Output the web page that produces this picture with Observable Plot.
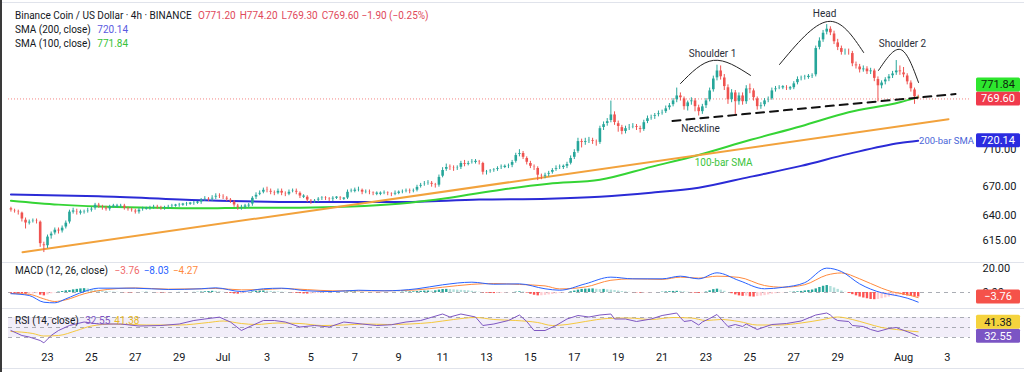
<!DOCTYPE html>
<html><head><meta charset="utf-8">
<script src="https://cdn.jsdelivr.net/npm/d3@7"></script>
<script src="https://cdn.jsdelivr.net/npm/@observablehq/plot@0.6"></script>
<style>
body{margin:0;background:#fff;}
#chart{position:relative;width:1024px;height:372px;overflow:hidden;font-family:Roboto,"Liberation Sans",sans-serif;color:#131722;background:#fff;}
.pane{position:absolute;left:0;}
.legend{position:absolute;left:15px;font-size:10px;white-space:nowrap;line-height:14px;}
.legend span{margin-left:4px;}
.sep{position:absolute;left:0;width:1024px;height:1px;background:#e0e3eb;}
.lborder{position:absolute;left:0;top:0;width:2px;height:372px;background:#3a3a3a;}
</style></head><body><div id="chart"></div>
<script>
// ---------------- DATA ----------------
const candleStart = "2025-06-21T08:00Z"; // first 4h bar
const firstOpen = 647;
const lastBarOHLC = [771.20, 774.20, 769.30, 769.60];
const lastChange = [-1.90, -0.25];
const closes = [
644.6,643.6,642.6,635.4,
631.4,633.4,634.4,633.4,611,609,
618.6,621.5,625.4,623.5,627.4,632.4,
643.6,643.6,642.6,642.6,643.6,644.6,
646.6,650.7,648.7,647.6,645.6,648.7,
648.7,648.7,649.7,646.6,645.6,644.6,
642.6,645.6,646.6,646.6,647.6,648.7,
647.6,646.6,647.6,648.7,649.7,649.7,
650.7,650.7,651.7,651.7,652.8,652.8,
655.9,656.9,655.9,657.9,660,659,
657.9,655.9,653.8,649.7,647.6,648.7,
648.7,650.7,657.9,661,663.1,666.3,
665.2,663.1,662.1,665.2,662.1,661,
664.2,665.2,663.1,659,659,654.8,
653.8,654.8,656.9,657.9,656.9,655.9,
657.9,657.9,656.9,656.9,664.2,665.2,
665.2,666.3,663.1,664.2,663.1,662.1,
662.1,662.1,663.1,662.1,661,663.1,
663.1,664.2,665.2,664.2,665.2,669.4,
671.5,672.6,673.7,671.5,670.5,680.1,
687.6,690.9,689.8,688.7,689.8,695.3,
693.1,695.3,696.4,696.4,695.3,684.4,
685.5,686.6,687.6,689.8,690.9,690.9,
692,696.4,704.1,706.4,700.8,695.3,
690.9,689.8,681.2,680.1,682.3,684.4,
687.6,689.8,690.9,690.9,694.2,700.8,
707.5,719.9,717.6,719.9,721,718.8,
717.6,734.8,739.5,743,751,740.6,
736,730.2,734.8,736,737.1,734.8,
732.5,741.8,746.5,747.7,750,752.3,
753.5,758.3,761.9,767.9,774,770.4,
759.5,765.5,767.9,759.5,753.5,760.7,
767.9,780.2,795.1,805.3,796.4,784.1,
767.9,777.7,765.5,774,765.5,782.7,
780.2,770.4,759.5,761.9,767.9,769.1,
780.2,782.7,784,784,782.7,782.7,
789,794.4,795.7,797,797,798.9,
834.5,844.5,855,860.5,854,842,
834.5,827.9,829.5,827.9,813,810.4,
805.3,807.8,802.8,805.3,794.4,785.1,
790,793.9,797.7,801.5,805.3,802.8,
798.9,790,781.4,771.5,769.6];
const highs = [
648,646,645,643,
637,635,636,636,634,613,
620,623,627,627,629,634,
645,647,646,645,645,647,
648,652,652,650,649,650,
651,651,651,651,648,647,
646,647,648,648,649,650,
650,649,649,650,651,651,
652,652,653,653,654,654,
657,659,658,660,662,662,
661,659,657,655,651,650,
651,652,659,663,665,668,
669,667,665,667,667,664,
666,667,667,664,661,660,
656,656,658,659,659,658,
659,659,659,658,666,667,
668,669,667,666,666,664,
664,664,665,664,663,665,
665,666,667,667,667,671,
673,675,676,675,673,682,
690,694,693,692,692,697,
698,697,699,699,698,696,
687,688,689,691,693,693,
694,698,706,710,708,702,
697,693,691,683,684,686,
689,692,693,693,696,703,
710,723,722,723,724,723,
721,737,742,746,767,754,
743,738,737,739,740,739,
737,744,749,750,752,755,
756,761,764,770,783,777,
772,767,771,770,762,763,
770,783,798,812,811,800,
787,781,780,777,777,786,
788,782,772,765,770,772,
783,785,786,786,786,785,
791,797,798,799,800,801,
837,848,858,866,863,857,
846,837,833,833,830,816,
813,811,810,808,807,797,
792,796,800,804,818,811,
809,801,792,783,774.2];
const lows = [
643,642,640,633,
626,630,632,631,608,603,
607,616,620,621,622,626,
631,641,640,640,641,642,
643,645,647,645,644,644,
647,647,647,645,644,643,
641,641,644,645,645,646,
646,645,645,646,647,648,
648,649,649,650,650,651,
651,654,654,654,656,657,
656,654,652,648,645,645,
646,647,649,656,660,662,
663,661,660,661,660,659,
660,663,661,657,657,653,
651,652,653,655,655,654,
654,656,655,655,656,663,
663,664,661,662,661,660,
660,660,661,660,659,660,
661,662,663,662,663,664,
668,670,671,669,668,669,
679,686,687,686,687,688,
691,692,694,694,693,682,
682,684,685,686,688,689,
689,690,695,702,699,693,
689,687,676,677,678,680,
683,686,688,688,689,693,
699,706,712,715,717,716,
714,716,732,737,741,738,
730,727,728,732,734,732,
729,731,740,744,745,748,
750,752,756,760,765,767,
756,755,762,754,749,751,
758,766,778,792,793,780,
763,765,749,762,762,763,
776,767,756,757,760,765,
768,778,781,781,780,780,
781,787,792,793,794,795,
797,832,842,852,851,839,
831,825,825,825,810,807,
802,803,800,800,791,766,
782,787,791,795,799,799,
796,787,778,763,769.3];
const histogram = [
-0.5,-0.8,-1.0,-1.2,-1.5,-1.3,-1.2,-1.0,-2.2,-2.8,
-2.0,-1.1,-0.3,0.4,0.8,1.4,
1.6,2.2,2.6,3.0,3.2,3.0,2.6,2.0,1.4,
1.0,0.8,0.5,0.3,0.2,0.0,-0.2,-0.3,-0.3,-0.2,-0.1,0.1,0.2,0.1,0.0,-0.2,-0.3,-0.3,-0.2,-0.1,0.0,0.1,0.0,-0.1,0.0,0.1,0.2,
0.4,0.6,0.8,1.0,0.9,0.6,0.2,-0.3,-0.8,-1.2,
-1.4,-1.2,-0.8,-0.2,
0.5,1.0,1.2,1.3,1.1,0.9,0.6,0.5,0.3,0.2,0.0,
-0.3,-0.6,-0.9,-1.2,-1.3,-1.2,-1.0,-0.8,
-0.6,-0.4,-0.3,-0.2,-0.1,0.0,0.2,0.4,0.5,0.5,0.4,0.2,0.1,0.0,-0.1,-0.2,-0.2,-0.1,-0.1,0.0,0.1,0.1,
0.3,0.4,0.5,0.6,0.8,1.0,1.2,1.2,1.1,1.4,2.0,2.5,2.6,2.4,2.2,2.0,1.8,1.6,1.4,1.0,0.6,0.2,-0.3,-0.6,
-0.8,-0.9,-0.8,-0.6,-0.4,-0.2,0.0,0.3,0.6,
0.4,-0.5,-1.5,-2.3,-2.8,-2.7,-2.4,
-2.0,-1.6,-1.2,-0.8,-0.5,
0.0,0.6,1.2,2.0,2.6,2.8,2.9,3.0,2.7,2.4,2.6,2.2,
2.0,1.6,1.2,0.8,0.5,0.2,
-0.1,-0.3,-0.5,-0.4,-0.3,-0.2,-0.1,0.0,
0.3,0.5,0.7,0.9,1.0,0.9,0.6,0.2,
-0.3,-0.6,-0.7,-0.4,
0.4,1.4,2.4,2.8,
2.0,1.0,0.0,-1.0,-2.0,-2.8,-3.2,-3.0,-3.6,-3.8,-3.4,-3.0,-2.6,-2.0,
-1.4,-1.0,-0.6,-0.3,0.0,0.2,0.4,0.6,0.9,
1.3,1.7,2.1,3.0,4.2,5.2,5.8,5.0,3.8,2.6,
1.2,0.2,-0.8,
-1.8,-2.8,-3.8,-4.6,-5.2,-5.8,-6.0,-5.8,-5.2,-4.5,-3.8,
-3.0,-2.4,-2.0,
-2.4,-2.9,-3.3,-3.6,-3.76];
const sma200 = [["06-21T08",661.3],["06-25T08",659.4],["06-30T00",655.3],["07-04T12",653.3],["07-09T00",653.3],["07-12T16",655.9],["07-15T20",656.9],["07-18T04",659.0],["07-20T12",663.1],["07-22T16",668.4],["07-25T00",680.0],["07-27T08",692.0],["07-29T12",705.3],["07-31T20",717.6],["08-01T16",720.14]];
const sma100 = [["06-21T08",654.8],["06-23T12",650.7],["06-25T08",648.7],["06-27T16",647.6],["06-30T00",647.0],["07-02T04",647.6],["07-04T12",647.6],["07-06T20",648.7],["07-09T00",651.7],["07-11T08",657.9],["07-13T16",666.3],["07-15T20",672.6],["07-18T04",676.9],["07-20T12",690.9],["07-22T16",704.1],["07-25T00",721.0],["07-27T08",737.0],["07-29T12",753.5],["07-31T20",765.5],["08-01T16",771.84]];
const macdLine = [["06-21T08",-1.0],["06-22T04",-2.5],["06-22T20",-8.1],["06-23T08",-8.6],["06-23T20",-5.3],["06-24T16",0.8],["06-25T08",3.6],["06-27T00",3.6],["06-28T12",2.5],["06-30T00",3.1],["06-30T16",3.9],["07-01T20",0.8],["07-02T20",3.1],["07-03T16",3.6],["07-04T20",1.4],["07-06T00",0.8],["07-07T04",1.9],["07-08T08",1.4],["07-09T20",3.1],["07-11T00",6.4],["07-12T08",8.6],["07-13T08",6.9],["07-14T12",7.2],["07-15T16",3.1],["07-16T08",1.9],["07-17T12",7.2],["07-18T16",12.8],["07-19T16",11.4],["07-21T00",11.4],["07-21T20",13.6],["07-22T16",11.4],["07-23T12",16.4],["07-24T12",10.0],["07-25T16",3.1],["07-26T12",4.3],["07-27T12",8.2],["07-28T12",20.3],["07-29T04",17.5],["07-30T00",7.2],["07-31T00",-0.2],["07-31T12",-1.9],["08-01T04",-4.7],["08-01T16",-8.03]];
const signalLine = [["06-21T08",-0.8],["06-22T04",-1.5],["06-22T20",-5.3],["06-23T08",-7.5],["06-23T20",-6.1],["06-24T16",-1.1],["06-25T08",1.6],["06-27T00",3.8],["06-28T12",2.8],["06-30T00",3.1],["06-30T16",3.4],["07-01T20",2.2],["07-02T20",2.4],["07-03T16",3.3],["07-04T20",2.4],["07-06T00",1.4],["07-07T04",1.4],["07-08T08",1.4],["07-09T20",2.2],["07-11T00",4.4],["07-12T08",6.8],["07-13T08",7.5],["07-14T12",6.7],["07-15T16",5.5],["07-16T08",3.0],["07-17T12",4.6],["07-18T16",10.2],["07-19T16",11.4],["07-21T00",10.9],["07-21T20",12.8],["07-22T16",12.0],["07-23T12",13.6],["07-24T12",12.6],["07-25T16",5.8],["07-26T12",4.4],["07-27T12",6.5],["07-28T12",14.5],["07-29T04",16.3],["07-30T00",11.4],["07-31T00",3.6],["07-31T12",0.5],["08-01T04",-1.8],["08-01T16",-4.27]];
const rsiLine = [["06-21T08",44],["06-21T20",34],["06-22T04",31],["06-22T16",24],["06-22T20",19.3],["06-23T04",34],["06-23T12",44],["06-24T00",54],["06-24T16",61],["06-25T08",57],["06-26T08",57],["06-27T04",53],["06-28T04",54],["06-29T00",57],["06-29T16",64],["06-30T04",67],["06-30T20",70.7],["07-01T08",61],["07-01T20",44],["07-02T04",51],["07-02T20",64],["07-03T08",64],["07-03T20",61],["07-04T12",51],["07-05T04",54],["07-05T20",51],["07-06T12",61],["07-07T08",57],["07-08T00",54],["07-08T16",55.5],["07-09T08",61],["07-10T00",64],["07-11T00",77],["07-11T08",71],["07-11T20",77],["07-12T12",71],["07-12T20",54],["07-13T08",57],["07-14T00",64],["07-14T12",75],["07-14T20",62],["07-15T04",44],["07-15T16",44],["07-16T04",54],["07-16T16",67],["07-17T04",74],["07-17T16",71],["07-18T04",75],["07-18T16",77],["07-18T20",67],["07-19T08",67],["07-19T20",62],["07-20T12",67],["07-21T00",74],["07-21T16",79],["07-21T20",70],["07-22T00",62],["07-22T08",64],["07-22T16",55],["07-22T20",61],["07-23T04",68],["07-23T12",76],["07-23T20",60],["07-24T00",52],["07-24T08",56],["07-24T16",52],["07-24T20",57],["07-25T08",46],["07-26T00",56],["07-26T16",58],["07-27T08",63],["07-28T00",75],["07-28T12",79],["07-28T16",75],["07-28T20",68],["07-29T00",64],["07-29T12",62],["07-29T16",54],["07-30T04",52],["07-30T12",46],["07-30T20",42],["07-31T08",48],["07-31T16",50],["07-31T20",47],["08-01T08",39],["08-01T16",32.55]];
const rsiMA = [["06-21T08",42],["06-22T08",38],["06-22T20",33],["06-23T12",34],["06-24T08",44],["06-25T00",53],["06-26T00",57],["06-27T12",55],["06-29T00",55],["06-30T08",60],["07-01T00",63],["07-01T20",58],["07-02T12",56],["07-03T12",59],["07-04T12",58],["07-05T12",54],["07-06T12",55],["07-07T12",57],["07-08T12",56],["07-09T12",57],["07-10T12",60],["07-11T12",66],["07-12T12",70],["07-13T08",66],["07-14T08",64],["07-15T08",60],["07-16T00",54],["07-16T16",56],["07-17T12",62],["07-18T12",68],["07-19T12",69],["07-20T12",66],["07-21T12",70],["07-22T08",69],["07-23T00",64],["07-23T16",66],["07-24T12",62],["07-25T08",55],["07-26T08",55],["07-27T08",59],["07-28T08",66],["07-29T00",71],["07-29T16",66],["07-30T08",58],["07-31T00",50],["07-31T16",46],["08-01T16",41.38]];
const trendLine = [["06-21T20:40",603.4],["08-03T01:10",745.3]];
const neckLine = [["07-21T11:20",743.2],["08-03T08:50",775.6]];
const arcs = [
  ["Shoulder 1","07-21T20:10",788.7],["Shoulder 1","07-23T08:10",818.2],["Shoulder 1","07-25T00:40",798.9],
  ["Head","07-26T08:24",812.9],["Head","07-28T13:00",870.3],["Head","07-30T04:20",828.5],
  ["Shoulder 2","07-30T20:40",805.3],["Shoulder 2","07-31T20:40",832.4],["Shoulder 2","08-01T16:20",790.0]];
const notes = [
  ["07-23T07:12",827.2,"Shoulder 1"],["07-28T09:36",881.4,"Head"],["07-31T22:48",840.4,"Shoulder 2"],
  ["07-22T18:00",734.4,"Neckline"],["07-23T19:12",695.3,"100-bar SMA"]];
const endNotes = [["08-01T17:00",720.5,"200-bar SMA"]];
const priceTicks = [615,640,670,710,750,840,880];
const macdTicks = [0,20];
const rsiLevels = [70,50,30];
const xTicks = ["06-23","06-25","06-27","06-29","07-01","07-03","07-05","07-07","07-09","07-11","07-13","07-15","07-17","07-19","07-21","07-23","07-25","07-27","07-29","08-01","08-03"];
const monthNames = ["Jan","Feb","Mar","Apr","May","Jun","Jul","Aug","Sep","Oct","Nov","Dec"];
const xView = ["06-21T05:21","08-04T01:12"];

// ---------------- STYLE ----------------
const C = {up:"#26a69a", down:"#ef5350", sma200:"#2b2bd6", sma100:"#35d435", trend:"#f2a23c",
  macd:"#2962ff", signal:"#ff8a3d", rsi:"#7e57c2", rsiMA:"#f5c93e", text:"#131722"};
const noteColor = {"100-bar SMA":"#3cc43c","200-bar SMA":"#4a66d8"};

// ---------------- BUILD ----------------
const T = s => { const [md, hm = "00"] = s.split("T"); return new Date(`2025-${md}T${hm.includes(":") ? hm : hm + ":00"}:00Z`); };
const t0 = +new Date(candleStart);
const candles = closes.map((c, i) => {
  const open = i === closes.length - 1 ? lastBarOHLC[0] : (i ? closes[i-1] : firstOpen);
  return {date: new Date(t0 + i * 4 * 3600e3), open, close: c,
    high: Math.max(highs[i], open, c), low: Math.min(lows[i], open, c)};
});
const hist = histogram.map((v, i) => {
  const p = i ? histogram[i-1] : v;
  const col = v >= 0 ? (v >= p ? "#26a69a" : "#b2dfdb") : (v <= p ? "#ff5252" : "#ffcdd2");
  return {date: candles[i].date, value: v, color: col};
});
const xDomain = xView.map(T);
const fmt = v => (v < 0 ? "\u2212" : "") + Math.abs(v).toFixed(2);
const last = a => a[a.length - 1];

function tagMark(items) {
  return function(...args) {
    const isNew = args.length >= 4;
    const scales = isNew ? args[1] : args[0];
    const dims = isNew ? args[3] : args[1];
    const H = 14;
    const list = items.map(d => ({...d, cy: scales.y(d.value)})).sort((a, b) => b.cy - a.cy);
    for (let i = 1; i < list.length; i++) if (list[i-1].cy - list[i].cy < H) list[i].cy = list[i-1].cy - H;
    const g = d3.create("svg:g");
    const x0 = dims.width - dims.marginRight + 6;
    for (const d of list) {
      g.append("rect").attr("x", x0).attr("y", d.cy - H/2).attr("width", 44).attr("height", H).attr("rx", 1.5).attr("fill", d.bg);
      g.append("text").attr("x", x0 + 22).attr("y", d.cy).attr("dy", "0.35em").attr("text-anchor", "middle")
        .attr("fill", d.fg).attr("font-size", 11).text(fmt(d.value));
    }
    return g.node();
  };
}

const base = {width: 1024, marginLeft: 8, marginRight: 54,
  style: {fontFamily: "Roboto, 'Liberation Sans', sans-serif", fontSize: "11px", color: C.text, background: "transparent", overflow: "visible"}};
const xHidden = {type: "utc", domain: xDomain, axis: null};

const pricePlot = Plot.plot({...base, height: 262, marginTop: 5, marginBottom: 7,
  x: xHidden,
  y: {type: "log", domain: [600.2, 892.7], axis: "right", ticks: priceTicks, tickFormat: d => d.toFixed(2), tickSize: 0, tickPadding: 12, label: null},
  color: {type: "identity"},
  marks: [
    Plot.ruleY([lastBarOHLC[3]], {stroke: "#ef5350", strokeDasharray: "1,2", strokeOpacity: 0.7}),
    Plot.line(sma200, {x: d => T(d[0]), y: d => d[1], stroke: C.sma200, strokeWidth: 2, curve: "monotone-x"}),
    Plot.line(sma100, {x: d => T(d[0]), y: d => d[1], stroke: C.sma100, strokeWidth: 2, curve: "monotone-x"}),
    Plot.line(trendLine, {x: d => T(d[0]), y: d => d[1], stroke: C.trend, strokeWidth: 2}),
    Plot.ruleX(candles, {x: "date", y1: "low", y2: "high", stroke: d => d.close >= d.open ? C.up : C.down, strokeWidth: 1}),
    Plot.ruleX(candles, {x: "date", y1: d => Math.min(d.open, d.close), y2: d => Math.max(d.open, d.close),
      stroke: d => d.close >= d.open ? C.up : C.down, strokeWidth: 2.6, insetTop: -0.6, insetBottom: -0.6}),
    Plot.line(neckLine, {x: d => T(d[0]), y: d => d[1], stroke: "#111", strokeWidth: 2, strokeDasharray: "8,6"}),
    Plot.line(arcs, {x: d => T(d[1]), y: d => d[2], z: d => d[0], curve: "natural", stroke: "#222", strokeWidth: 1}),
    Plot.text(notes, {x: d => T(d[0]), y: d => d[1], text: d => d[2], fill: d => noteColor[d[2]] || "#2a2e39",
      fontSize: 10, textAnchor: "middle"}),
    Plot.text(endNotes, {x: d => T(d[0]), y: d => d[1], text: d => d[2], fill: d => noteColor[d[2]],
      fontSize: 9.5, textAnchor: "start"}),
    tagMark([
      {value: last(sma100)[1], bg: "#2ee62e", fg: "#0d260d"},
      {value: lastBarOHLC[3], bg: "#f03a4c", fg: "#fff"},
      {value: last(sma200)[1], bg: "#2b2be0", fg: "#fff"}
    ])
  ]});

const macdPlot = Plot.plot({...base, height: 46, marginTop: 0, marginBottom: 0,
  x: xHidden,
  y: {domain: [-13.33, 25], axis: "right", ticks: macdTicks, tickFormat: d => d.toFixed(2), tickSize: 0, tickPadding: 12, label: null},
  color: {type: "identity"},
  marks: [
    Plot.ruleY([0], {stroke: "#9598a1", strokeDasharray: "4,4", strokeOpacity: 0.8}),
    Plot.ruleX(hist, {x: "date", y1: 0, y2: "value", stroke: "color", strokeWidth: 2.4}),
    Plot.line(signalLine, {x: d => T(d[0]), y: d => d[1], stroke: C.signal, strokeWidth: 1, curve: "monotone-x"}),
    Plot.line(macdLine, {x: d => T(d[0]), y: d => d[1], stroke: C.macd, strokeWidth: 1, curve: "monotone-x"}),
    tagMark([{value: last(histogram), bg: "#f5524a", fg: "#fff"}])
  ]});

const rsiPlot = Plot.plot({...base, height: 64, marginTop: 0, marginBottom: 27,
  x: {type: "utc", domain: xDomain, ticks: xTicks.map(T), tickSize: 0, tickPadding: 8, label: null,
      tickFormat: d => d.getUTCDate() === 1 ? monthNames[d.getUTCMonth()] : String(d.getUTCDate())},
  y: {domain: [14, 88], axis: null},
  marks: [
    Plot.rect([0], {y1: rsiLevels[2], y2: rsiLevels[0], fill: C.rsi, fillOpacity: 0.1}),
    Plot.ruleY(rsiLevels, {stroke: "#9598a1", strokeDasharray: "4,4", strokeOpacity: 0.8}),
    Plot.line(rsiMA, {x: d => T(d[0]), y: d => d[1], stroke: C.rsiMA, strokeWidth: 1, curve: "monotone-x"}),
    Plot.line(rsiLine, {x: d => T(d[0]), y: d => d[1], stroke: C.rsi, strokeWidth: 1}),
    tagMark([{value: last(rsiMA)[1], bg: "#f5d33d", fg: "#131722"}, {value: last(rsiLine)[1], bg: "#7b55c4", fg: "#fff"}])
  ]});

const root = document.getElementById("chart");
[[pricePlot, 0], [macdPlot, 262], [rsiPlot, 308]].forEach(([p, top]) => {
  p.classList.add("pane"); p.style.position = "absolute"; p.style.top = top + "px"; p.style.left = "0px";
  root.appendChild(p);
});
[2, 262, 308, 368].forEach(y => { const s = document.createElement("div"); s.className = "sep"; s.style.top = y + "px"; root.appendChild(s); });
const lb = document.createElement("div"); lb.className = "lborder"; root.appendChild(lb);

const red = "#e0485a";
const leg1 = document.createElement("div"); leg1.className = "legend"; leg1.style.top = "9px";
leg1.innerHTML =
  `<div>Binance Coin / US Dollar · 4h · BINANCE <span style="color:${red}">O${fmt(lastBarOHLC[0])}</span><span style="color:${red}">H${fmt(lastBarOHLC[1])}</span><span style="color:${red}">L${fmt(lastBarOHLC[2])}</span><span style="color:${red}">C${fmt(lastBarOHLC[3])} ${fmt(lastChange[0])} (${fmt(lastChange[1])}%)</span></div>` +
  `<div>SMA (200, close) <span style="color:#5a5ae0">${fmt(last(sma200)[1])}</span></div>` +
  `<div>SMA (100, close) <span style="color:#36c236">${fmt(last(sma100)[1])}</span></div>`;
root.appendChild(leg1);
const leg2 = document.createElement("div"); leg2.className = "legend"; leg2.style.top = "264px";
leg2.innerHTML = `MACD (12, 26, close) <span style="color:#ef6a6a">${fmt(last(histogram))}</span><span style="color:${C.macd}">${fmt(last(macdLine)[1])}</span><span style="color:${C.signal}">${fmt(last(signalLine)[1])}</span>`;
root.appendChild(leg2);
const leg3 = document.createElement("div"); leg3.className = "legend"; leg3.style.top = "314px";
leg3.innerHTML = `RSI (14, close) <span style="color:${C.rsi}">${fmt(last(rsiLine)[1])}</span><span style="color:#e8b923">${fmt(last(rsiMA)[1])}</span>`;
root.appendChild(leg3);
</script></body></html>
